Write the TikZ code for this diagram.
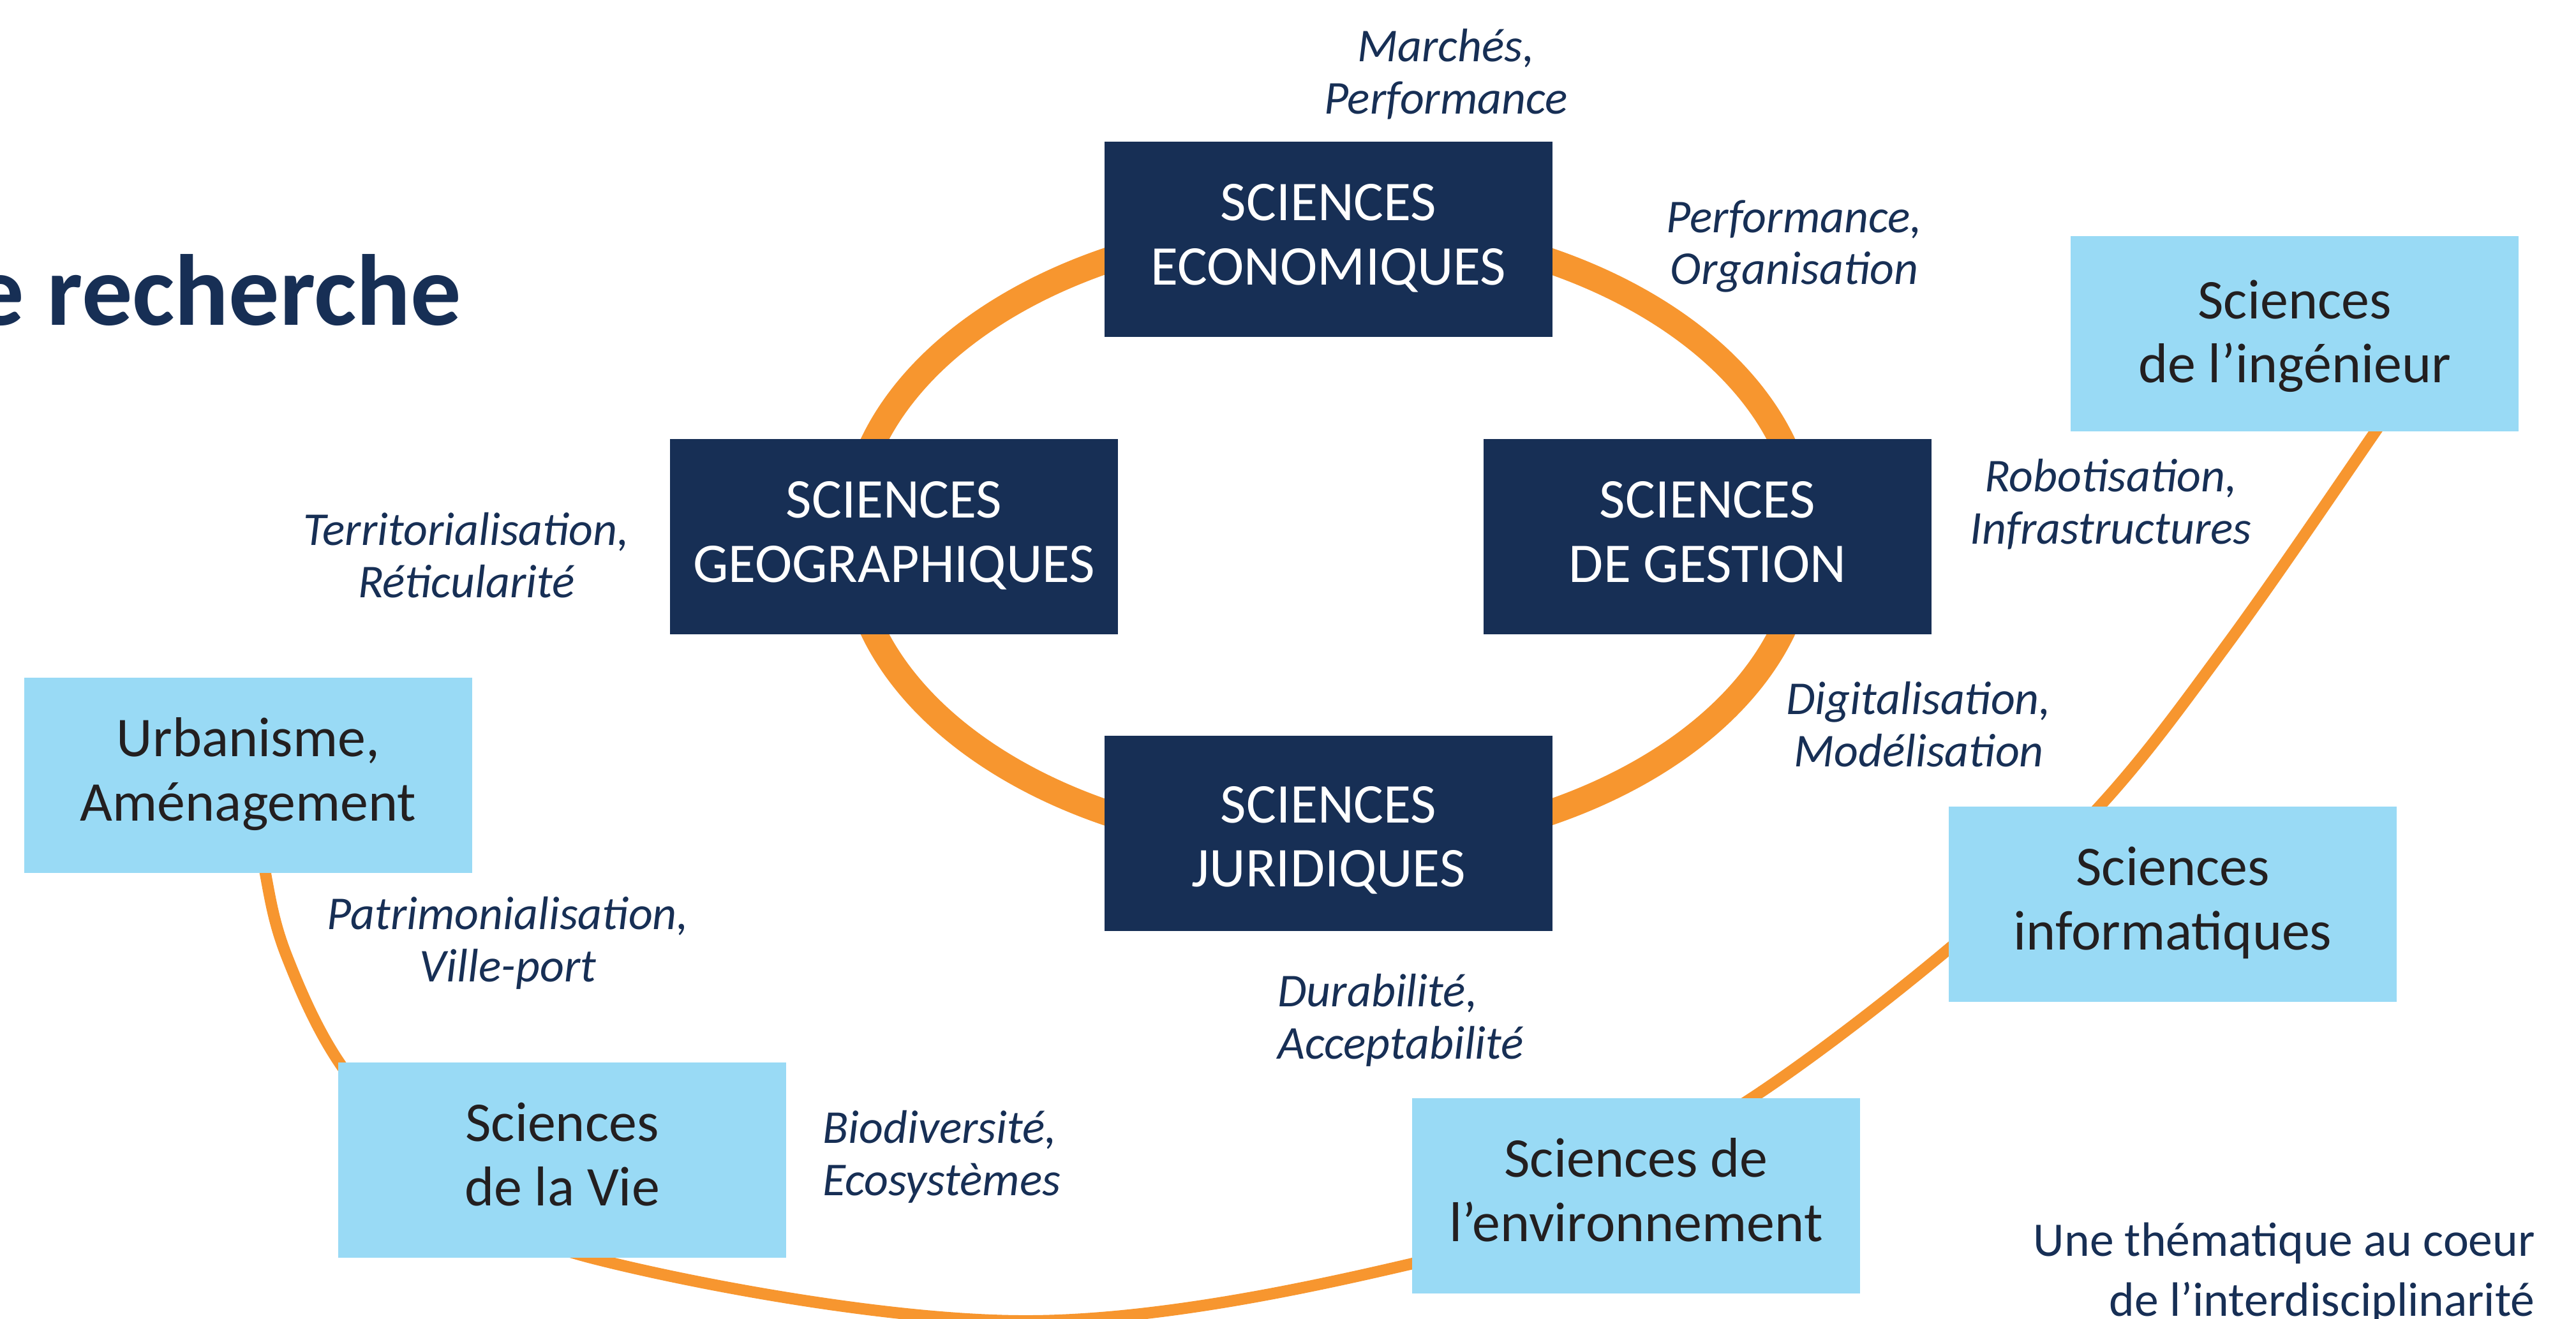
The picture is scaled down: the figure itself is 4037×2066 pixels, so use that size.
\documentclass[tikz,border=0pt]{standalone}
\usepackage{fontspec}
\setmainfont{Carlito}
\definecolor{navy}{HTML}{172F55}
\definecolor{sky}{HTML}{99DAF5}
\definecolor{ring}{HTML}{F7962F}
\definecolor{ink}{HTML}{231F20}

\begin{document}
\begin{tikzpicture}[x=0.01cm, y=-0.01cm,
    box/.style={minimum width=7.02cm, minimum height=3.06cm, inner sep=0pt, align=center,
                font=\fontsize{25}{28.5}\selectfont, text height=49pt, text depth=8.6pt},
    darkbox/.style={box, fill=navy, text=white},
    lightbox/.style={box, fill=sky, text=ink},
    theme/.style={align=center, text=navy, font=\fontsize{21}{23.3}\selectfont\itshape}]
  \useasboundingbox (0,0) rectangle (4037,2066);
  \fill[white] (0,0) rectangle (4037,2066);
  % outer ring, behind the light boxes
  \draw[ring, line width=0.18cm] plot[smooth, tension=0.6] coordinates
    {(400,1230) (416,1369) (450,1500) (535,1670) (680,1835) (930,1972) (1600,2070)
     (2214,1980) (2480,1865) (2745,1721) (3054,1487) (3290,1264) (3490,1010) (3720,680) (3800,560)};
  % inner ring, behind the dark boxes
  \draw[ring, line width=0.4cm] (2081,841) ellipse [x radius=7.47cm, y radius=4.88cm];

  \node[anchor=base east, text=navy, font=\fontsize{45}{54}\selectfont\bfseries] (titre) at (736,509) {e recherche};

  \node[darkbox] (eco) at (2082,375) {SCIENCES\\ECONOMIQUES};
  \node[darkbox] (geo) at (1401,841) {SCIENCES\\GEOGRAPHIQUES};
  \node[darkbox] (ges) at (2676,841) {SCIENCES\\DE GESTION};
  \node[darkbox, text height=56pt] (jur) at (2082,1306) {SCIENCES\\JURIDIQUES};

  \node[lightbox] (urb) at (389,1215) {Urbanisme,\\Aménagement};
  \node[lightbox] (vie) at (881,1818) {Sciences\\de la Vie};
  \node[lightbox] (env) at (2564,1874) {Sciences de\\l’environnement};
  \node[lightbox] (info) at (3405,1417) {Sciences\\informatiques};
  \node[lightbox, text height=52pt] (ing) at (3596,523) {Sciences\\de l’ingénieur};

  \node[theme] (marches) at (2266,116) {Marchés,\\Performance};
  \node[theme] (orga) at (2812,386) {Performance,\\Organisation};
  \node[theme] (terri) at (731,870) {Territorialisation,\\Réticularité};
  \node[theme] (robot) at (3308,790) {Robotisation,\\Infrastructures};
  \node[theme] (digit) at (3007,1135) {Digitalisation,\\Modélisation};
  \node[theme] (patri) at (796,1478) {Patrimonialisation,\\Ville-port};
  \node[theme, align=left, anchor=west] (dura) at (1990,1599) {Durabilité,\\Acceptabilité};
  \node[theme, align=left, anchor=west] (bio) at (1277,1813) {Biodiversité,\\Ecosystèmes};

  \node[anchor=base east, align=right, text=navy, font=\fontsize{21.5}{26.5}\selectfont] (coeur) at (3985,2062)
    {Une thématique au coeur\\de l’interdisciplinarité};
\end{tikzpicture}
\end{document}
